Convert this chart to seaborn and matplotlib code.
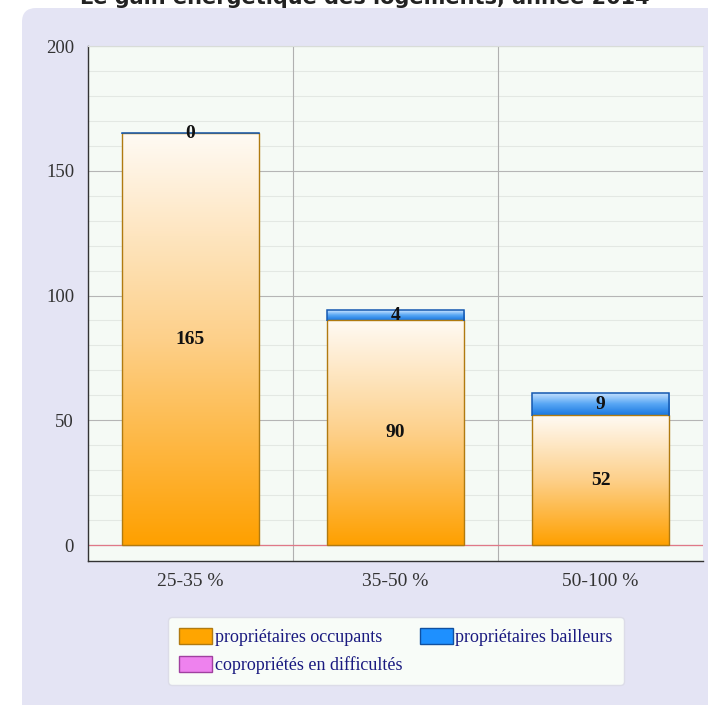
import matplotlib
matplotlib.use("Agg")
import matplotlib.pyplot as plt
import seaborn as sns
import pandas as pd
import numpy as np
from matplotlib.patches import Patch, FancyBboxPatch, Rectangle
from matplotlib.colors import LinearSegmentedColormap

# data
classes = ["25-35 %", "35-50 %", "50-100 %"]
occupants = [165, 90, 52]
bailleurs = [0, 4, 9]
coproprietes = [0, 0, 0]
series_names = ["propriétaires occupants", "propriétaires bailleurs", "copropriétés en difficultés"]
series_colors = ["#ffa500", "#1e90ff", "#ee82ee"]

df = pd.DataFrame({"classe": classes, "occupants": occupants, "bailleurs": bailleurs})
df["total"] = df["occupants"] + df["bailleurs"]

sns.set_style("white")
plt.rcParams["font.family"] = ["Liberation Serif", "DejaVu Serif"]

fig = plt.figure(figsize=(7.08, 7.05), dpi=100)
fig.patch.set_facecolor("white")

# lavender panel behind the chart
panel = FancyBboxPatch((22 / 708, -0.05), 1.1, 1 - 8 / 705 + 0.05,
                       boxstyle="round,pad=0,rounding_size=0.02",
                       transform=fig.transFigure, facecolor="#e4e4f4",
                       edgecolor="none", zorder=-5)
fig.patches.append(panel)

# title, mostly cut off at the top edge (as in the reference)
fig.text(0.515, 1 - 4 / 705, "Le gain énergétique des logements, année 2014",
         ha="center", va="baseline", fontsize=15, fontweight="bold",
         family="DejaVu Sans", color="#222222")

ax = fig.add_axes([88 / 708, 1 - 561 / 705, (703 - 88) / 708, (561 - 46) / 705])
ax.set_zorder(1)
ax.set_facecolor("#f5faf5")

# stacked bars: totals first, then occupants
sns.barplot(data=df, x="classe", y="total", color=series_colors[1], width=0.67,
            edgecolor="#1458b0", linewidth=1.1, ax=ax, zorder=2.8)
sns.barplot(data=df, x="classe", y="occupants", color=series_colors[0], width=0.67,
            edgecolor="#b07a10", linewidth=1.0, ax=ax, zorder=2.7)

orange_cmap = LinearSegmentedColormap.from_list("o", ["#ffa000", "#fdd08a", "#fffaf4"])
blue_cmap = LinearSegmentedColormap.from_list("b", ["#1a78e0", "#5aa8f5", "#cfe6ff"])
grad = np.linspace(0, 1, 256).reshape(-1, 1)

n = len(classes)
blue_patches = ax.patches[:n]
orange_patches = ax.patches[n:2 * n]
for i in range(n):
    bp = blue_patches[i]
    op = orange_patches[i]
    x0, w = op.get_x(), op.get_width()
    im = ax.imshow(grad, cmap=orange_cmap, origin="lower", aspect="auto",
                   extent=(x0, x0 + w, 0, occupants[i]), zorder=2.5)
    im.set_clip_path(op)
    if bailleurs[i] > 0:
        im2 = ax.imshow(grad, cmap=blue_cmap, origin="lower", aspect="auto",
                        extent=(x0, x0 + w, occupants[i], occupants[i] + bailleurs[i]), zorder=2.5)
        im2.set_clip_path(bp)
    op.set_facecolor("none")
    bp.set_facecolor("none")
    # keep the blue outline only around its own segment
    clip = Rectangle((x0 - 0.05, occupants[i] - 0.3), w + 0.1, bailleurs[i] + 5,
                     transform=ax.transData)
    bp.set_clip_path(clip)

    ax.text(i, occupants[i] / 2, str(occupants[i]), ha="center", va="center",
            fontsize=14, fontweight="bold", color="#111111", zorder=5)
    ax.text(i, occupants[i] + bailleurs[i] / 2, str(bailleurs[i]), ha="center", va="center",
            fontsize=14, fontweight="bold", color="#111111", zorder=5)

ax.set_xlim(-0.5, 2.5)
ax.set_ylim(-6.4, 200)

# grid
ax.set_yticks([0, 50, 100, 150, 200])
ax.set_yticks(np.arange(0, 201, 10), minor=True)
ax.grid(axis="y", which="minor", color="#e3e8e3", lw=0.8, zorder=0.5)
ax.grid(axis="y", which="major", color="#b5b5b5", lw=0.8, zorder=0.6)
for xb in [0.5, 1.5]:
    ax.axvline(xb, color="#b0b0b0", lw=0.8, zorder=0.6)
ax.axhline(0, color="#e07888", lw=0.9, zorder=0.7)

# ticks: marks at category boundaries, labels at centres
ax.set_xticks([-0.5, 0.5, 1.5, 2.5])
ax.set_xticklabels([])
ax.set_xticks([0, 1, 2], minor=True)
ax.set_xticklabels(classes, minor=True)
ax.tick_params(axis="x", which="major", direction="out", length=8, width=1, color="#333333")
ax.tick_params(axis="x", which="minor", length=0, pad=9, labelsize=14, labelcolor="#333333")
ax.tick_params(axis="y", which="major", direction="out", length=7, width=1, color="#333333",
               labelsize=13.5, labelcolor="#333333", pad=3)
ax.tick_params(axis="y", which="minor", length=0)
ax.set_xlabel("")
ax.set_ylabel("")

for s in ["left", "bottom"]:
    ax.spines[s].set_color("#333333")
    ax.spines[s].set_linewidth(1.0)
ax.spines["right"].set_visible(False)
ax.spines["top"].set_color("#d8dcd8")

# legend
handles = [Patch(facecolor=series_colors[0], edgecolor="#b07a10", label=series_names[0]),
           Patch(facecolor=series_colors[2], edgecolor="#a040a0", label=series_names[2]),
           Patch(facecolor=series_colors[1], edgecolor="#1050a0", label=series_names[1])]
leg = fig.legend(handles=handles, ncol=2, loc="center", bbox_to_anchor=(396 / 708, 1 - 651 / 705),
                 fontsize=13, handlelength=1.8, handleheight=1.0, handletextpad=0.15,
                 labelspacing=0.55, columnspacing=1.0, frameon=True, fancybox=True,
                 borderpad=0.6)
leg.set_zorder(3)
leg.get_frame().set_facecolor("#f8fcf8")
leg.get_frame().set_edgecolor("#dcdce8")
leg.get_frame().set_alpha(1)
for t in leg.get_texts():
    t.set_color("#1a1a80")

fig.savefig("out.png", dpi=100)
